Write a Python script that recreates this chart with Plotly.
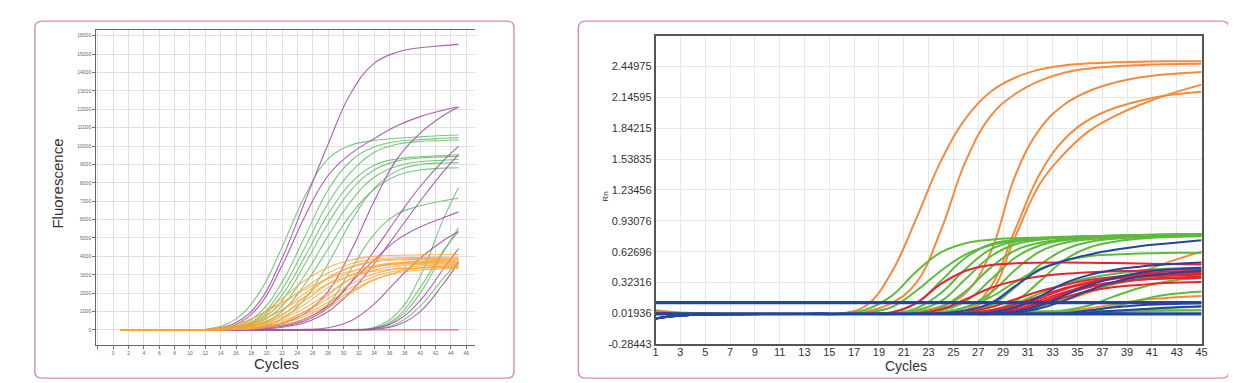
import plotly.graph_objects as go

# ---------------- LEFT PANEL DATA (Fluorescence vs Cycles) ----------------
L_CYCLES = [1, 10, 13, 16, 19, 22, 25, 28, 31, 34, 37, 40, 43, 45]

L_G1 = [0, 0, 100, 600, 2000, 4500, 7300, 9300, 10050, 10300, 10420, 10500, 10570, 10600]
L_G2 = [0, 0, 30, 200, 900, 2600, 5100, 7600, 9200, 9950, 10250, 10350, 10420, 10460]
L_G3 = [0, 0, 20, 150, 700, 2200, 4500, 6900, 8600, 9650, 10100, 10250, 10300, 10340]
L_G4 = [0, 0, 20, 130, 600, 1900, 4000, 6300, 8000, 8950, 9300, 9420, 9490, 9530]
L_G5 = [0, 0, 10, 100, 500, 1600, 3600, 5800, 7600, 8700, 9180, 9350, 9410, 9440]
L_G6 = [0, 0, 10, 80, 400, 1300, 3000, 5100, 7000, 8300, 8900, 9150, 9230, 9270]
L_G7 = [0, 0, 5, 60, 300, 1000, 2500, 4400, 6300, 7650, 8400, 8700, 8800, 8820]
L_G8 = [0, 0, 0, 30, 150, 600, 1700, 3600, 5900, 7700, 8650, 9000, 9080, 9100]
L_G9 = [0, 0, 0, 20, 80, 250, 600, 1400, 3300, 5200, 6300, 6750, 7020, 7160]
L_G10 = [0, 0, 0, 0, 0, 0, 0, 5, 20, 150, 900, 2900, 6000, 7750]
L_G11 = [0, 0, 0, 0, 0, 0, 0, 0, 10, 80, 600, 2000, 4200, 5550]
L_G12 = [0, 0, 0, 0, 0, 0, 0, 0, 10, 100, 700, 2300, 4300, 5350]
L_G13 = [0, 0, 0, 0, 0, 0, 0, 0, 5, 50, 350, 1300, 2800, 3700]

L_P1 = [0, 0, 50, 400, 1500, 3900, 7000, 10100, 12900, 14500, 15100, 15350, 15460, 15530]
L_P2 = [0, 0, 40, 300, 1300, 3500, 6200, 8400, 9600, 10400, 11100, 11600, 11950, 12120]
L_P3 = [0, 0, 0, 20, 100, 350, 900, 2100, 4300, 7000, 9300, 10700, 11650, 12120]
L_P4 = [0, 0, 0, 10, 50, 200, 500, 1200, 2600, 4300, 6100, 7800, 9200, 9980]
L_P5 = [0, 0, 0, 5, 30, 150, 400, 1000, 2100, 3600, 5300, 7000, 8600, 9530]
L_P6 = [0, 0, 0, 10, 60, 250, 600, 1300, 2600, 3800, 4900, 5600, 6100, 6420]
L_P7 = [0, 0, 0, 0, 0, 10, 30, 120, 500, 1400, 2700, 3900, 4850, 5350]
L_P8 = [0, 0, 0, 0, 0, 0, 0, 5, 10, 80, 500, 1600, 3300, 4420]
L_P9 = [0, 0, 0, 0, 0, 0, 0, 0, 5, 30, 250, 1000, 2500, 3660]

L_O1 = [0, 0, 50, 250, 800, 1700, 2700, 3400, 3800, 4000, 4060, 4080, 4090, 4100]
L_O2 = [0, 0, 40, 200, 600, 1400, 2300, 3100, 3600, 3850, 3920, 3940, 3950, 3950]
L_O3 = [0, 0, 30, 150, 450, 1100, 2000, 2800, 3400, 3700, 3800, 3830, 3840, 3850]
L_O4 = [0, 0, 20, 100, 350, 850, 1600, 2500, 3150, 3500, 3650, 3710, 3740, 3750]
L_O5 = [0, 0, 15, 80, 300, 700, 1400, 2300, 3000, 3400, 3600, 3660, 3690, 3700]
L_O6 = [0, 0, 10, 60, 250, 600, 1200, 2000, 2800, 3250, 3470, 3560, 3590, 3600]
L_O7 = [0, 0, 10, 50, 200, 500, 1000, 1700, 2500, 3050, 3350, 3480, 3530, 3550]
L_O8 = [0, 0, 5, 40, 150, 400, 850, 1500, 2300, 2900, 3220, 3370, 3430, 3450]
L_O9 = [0, 0, 5, 30, 120, 350, 750, 1350, 2100, 2750, 3100, 3260, 3320, 3350]
L_O10 = [0, 0, 10, 50, 250, 800, 1800, 2850, 3450, 3750, 3860, 3890, 3900, 3900]
L_O11 = [0, 0, 5, 30, 120, 400, 1000, 1900, 2800, 3380, 3650, 3750, 3790, 3800]
L_O12 = [0, 0, 60, 300, 800, 1500, 2200, 2800, 3200, 3450, 3570, 3620, 3640, 3650]
L_O13 = [0, 0, 0, 20, 80, 250, 600, 1200, 2000, 2700, 3150, 3380, 3470, 3500]
L_O14 = [0, 0, 40, 180, 500, 1100, 1800, 2500, 2950, 3200, 3320, 3370, 3390, 3400]

L_BASE = [0, 0, 0, 0, 0, 0, 0, 0, 0, 0, 0, 0, 0, 0]

L_GREENS = [L_G1, L_G2, L_G3, L_G4, L_G5, L_G6, L_G7, L_G8, L_G9, L_G10, L_G11, L_G12, L_G13]
L_PURPLES = [L_P1, L_P2, L_P3, L_P4, L_P5, L_P6, L_P7, L_P8, L_P9]
L_ORANGES = [L_O1, L_O2, L_O3, L_O4, L_O5, L_O6, L_O7, L_O8, L_O9, L_O10, L_O11, L_O12, L_O13, L_O14]

L_XTICKS = list(range(-2, 47, 2))
L_XTICKTEXT = [""] + [str(v) for v in range(0, 47, 2)]
L_YTICKS = list(range(0, 16001, 1000))
L_YTICKTEXT = [str(v) for v in range(0, 16001, 1000)]

# ---------------- RIGHT PANEL DATA (Rn vs Cycles) ----------------
R_CYCLES = [1, 3, 13, 16, 18, 20, 22, 24, 26, 28, 30, 32, 34, 36, 38, 40, 42, 45]

R_O1 = [0.05, 0.03, 0.015, 0.02, 0.10, 0.42, 0.95, 1.52, 1.94, 2.20, 2.34, 2.42, 2.46, 2.48, 2.49, 2.495, 2.50, 2.50]
R_O2 = [0.04, 0.025, 0.015, 0.015, 0.04, 0.12, 0.32, 0.84, 1.52, 1.96, 2.18, 2.31, 2.39, 2.43, 2.45, 2.462, 2.47, 2.475]
R_O3 = [0.04, 0.02, 0.015, 0.015, 0.015, 0.02, 0.04, 0.09, 0.22, 0.62, 1.38, 1.84, 2.08, 2.21, 2.29, 2.34, 2.37, 2.395]
R_O4 = [0.03, 0.02, 0.015, 0.015, 0.015, 0.015, 0.02, 0.03, 0.04, 0.22, 0.78, 1.30, 1.60, 1.82, 1.96, 2.07, 2.16, 2.27]
R_O5 = [0.03, 0.02, 0.015, 0.015, 0.015, 0.015, 0.02, 0.03, 0.05, 0.28, 0.85, 1.40, 1.74, 1.93, 2.04, 2.11, 2.16, 2.20]
R_O6 = [0.03, 0.02, 0.015, 0.015, 0.015, 0.015, 0.015, 0.015, 0.015, 0.02, 0.03, 0.09, 0.15, 0.23, 0.32, 0.42, 0.51, 0.63]
R_O7 = [0.03, 0.02, 0.015, 0.015, 0.015, 0.015, 0.015, 0.015, 0.015, 0.015, 0.015, 0.02, 0.04, 0.07, 0.11, 0.15, 0.17, 0.19]
R_O8 = [0.03, 0.02, 0.015, 0.015, 0.015, 0.015, 0.015, 0.015, 0.015, 0.015, 0.015, 0.015, 0.015, 0.015, 0.03, 0.04, 0.045, 0.05]

R_G1 = [0.04, 0.02, 0.015, 0.02, 0.06, 0.19, 0.43, 0.62, 0.71, 0.745, 0.76, 0.765, 0.77, 0.775, 0.78, 0.785, 0.79, 0.79]
R_G2 = [0.04, 0.02, 0.015, 0.015, 0.03, 0.08, 0.24, 0.44, 0.60, 0.69, 0.735, 0.755, 0.77, 0.775, 0.78, 0.785, 0.79, 0.795]
R_G3 = [0.03, 0.02, 0.015, 0.015, 0.02, 0.03, 0.12, 0.34, 0.57, 0.70, 0.745, 0.765, 0.775, 0.78, 0.785, 0.79, 0.795, 0.80]
R_G4 = [0.03, 0.02, 0.015, 0.015, 0.015, 0.02, 0.07, 0.22, 0.46, 0.65, 0.725, 0.755, 0.77, 0.78, 0.785, 0.79, 0.795, 0.80]
R_G5 = [0.03, 0.02, 0.015, 0.015, 0.015, 0.015, 0.05, 0.14, 0.36, 0.58, 0.70, 0.745, 0.765, 0.775, 0.78, 0.785, 0.79, 0.795]
R_G6 = [0.03, 0.02, 0.015, 0.015, 0.015, 0.015, 0.03, 0.08, 0.24, 0.47, 0.64, 0.715, 0.75, 0.765, 0.775, 0.78, 0.785, 0.79]
R_G7 = [0.03, 0.02, 0.015, 0.015, 0.015, 0.015, 0.02, 0.05, 0.14, 0.35, 0.57, 0.69, 0.74, 0.76, 0.77, 0.78, 0.79, 0.80]
R_G8 = [0.03, 0.02, 0.015, 0.015, 0.015, 0.015, 0.015, 0.03, 0.08, 0.22, 0.45, 0.63, 0.715, 0.75, 0.765, 0.775, 0.785, 0.79]
R_G9 = [0.03, 0.02, 0.015, 0.015, 0.015, 0.015, 0.015, 0.02, 0.04, 0.10, 0.28, 0.50, 0.65, 0.725, 0.755, 0.77, 0.78, 0.785]
R_G10 = [0.03, 0.02, 0.015, 0.015, 0.015, 0.015, 0.015, 0.015, 0.02, 0.05, 0.14, 0.34, 0.55, 0.67, 0.725, 0.755, 0.77, 0.78]
R_G11 = [0.03, 0.02, 0.015, 0.015, 0.015, 0.015, 0.015, 0.03, 0.08, 0.18, 0.33, 0.46, 0.54, 0.585, 0.60, 0.61, 0.615, 0.615]
R_G12 = [0.03, 0.02, 0.015, 0.015, 0.015, 0.015, 0.015, 0.015, 0.015, 0.02, 0.04, 0.09, 0.17, 0.25, 0.31, 0.36, 0.39, 0.41]
R_G13 = [0.03, 0.02, 0.015, 0.015, 0.015, 0.015, 0.015, 0.015, 0.015, 0.015, 0.02, 0.03, 0.05, 0.10, 0.19, 0.27, 0.33, 0.37]
R_G14 = [0.03, 0.02, 0.015, 0.015, 0.015, 0.015, 0.015, 0.015, 0.015, 0.015, 0.015, 0.02, 0.03, 0.05, 0.09, 0.15, 0.20, 0.235]
R_G15 = [0.03, 0.02, 0.015, 0.015, 0.015, 0.015, 0.015, 0.015, 0.015, 0.015, 0.015, 0.015, 0.015, 0.02, 0.03, 0.05, 0.07, 0.085]
R_G16 = [0.03, 0.02, 0.015, 0.015, 0.015, 0.02, 0.025, 0.03, 0.03, 0.035, 0.035, 0.04, 0.04, 0.04, 0.045, 0.045, 0.05, 0.05]
R_G17 = [0.03, 0.02, 0.015, 0.015, 0.015, 0.015, 0.015, 0.015, 0.02, 0.05, 0.12, 0.22, 0.31, 0.37, 0.41, 0.44, 0.46, 0.47]

R_R1 = [0.02, 0.015, 0.015, 0.015, 0.015, 0.03, 0.12, 0.31, 0.44, 0.495, 0.512, 0.518, 0.52, 0.518, 0.515, 0.51, 0.505, 0.50]
R_R2 = [0.02, 0.015, 0.015, 0.015, 0.015, 0.015, 0.02, 0.06, 0.16, 0.27, 0.34, 0.385, 0.41, 0.425, 0.435, 0.44, 0.45, 0.455]
R_R3 = [0.02, 0.015, 0.015, 0.015, 0.015, 0.015, 0.015, 0.02, 0.03, 0.08, 0.16, 0.24, 0.30, 0.35, 0.38, 0.40, 0.41, 0.42]
R_R4 = [0.02, 0.015, 0.015, 0.015, 0.015, 0.015, 0.015, 0.015, 0.02, 0.05, 0.11, 0.19, 0.27, 0.33, 0.37, 0.39, 0.40, 0.41]
R_R5 = [0.02, 0.015, 0.015, 0.015, 0.015, 0.015, 0.015, 0.015, 0.015, 0.04, 0.09, 0.17, 0.26, 0.32, 0.36, 0.38, 0.39, 0.40]
R_R6 = [0.02, 0.015, 0.015, 0.015, 0.015, 0.015, 0.015, 0.015, 0.015, 0.03, 0.08, 0.15, 0.23, 0.29, 0.33, 0.35, 0.37, 0.38]
R_R7 = [0.02, 0.015, 0.015, 0.015, 0.015, 0.015, 0.015, 0.015, 0.015, 0.02, 0.06, 0.13, 0.21, 0.28, 0.32, 0.35, 0.36, 0.37]
R_R8 = [0.02, 0.015, 0.015, 0.015, 0.015, 0.015, 0.015, 0.015, 0.015, 0.015, 0.05, 0.10, 0.18, 0.24, 0.28, 0.30, 0.32, 0.33]
R_R9 = [0.02, 0.015, 0.015, 0.015, 0.015, 0.015, 0.015, 0.015, 0.015, 0.015, 0.04, 0.12, 0.22, 0.31, 0.37, 0.41, 0.43, 0.44]

R_B1 = [-0.03, 0.0, 0.015, 0.015, 0.015, 0.015, 0.015, 0.02, 0.05, 0.12, 0.29, 0.45, 0.54, 0.60, 0.645, 0.68, 0.705, 0.74]
R_B2 = [-0.03, 0.0, 0.015, 0.015, 0.015, 0.015, 0.015, 0.015, 0.015, 0.03, 0.08, 0.19, 0.32, 0.40, 0.45, 0.48, 0.50, 0.52]
R_B3 = [-0.03, 0.0, 0.015, 0.015, 0.015, 0.015, 0.015, 0.015, 0.015, 0.02, 0.04, 0.10, 0.20, 0.30, 0.37, 0.42, 0.45, 0.47]
R_B4 = [-0.03, 0.0, 0.015, 0.015, 0.015, 0.015, 0.015, 0.015, 0.015, 0.015, 0.03, 0.07, 0.15, 0.25, 0.33, 0.38, 0.41, 0.44]
R_B5 = [-0.03, 0.0, 0.015, 0.015, 0.015, 0.015, 0.015, 0.015, 0.015, 0.015, 0.015, 0.015, 0.02, 0.05, 0.08, 0.10, 0.11, 0.12]
R_B6 = [-0.03, 0.0, 0.015, 0.015, 0.015, 0.015, 0.015, 0.015, 0.015, 0.015, 0.015, 0.015, 0.015, 0.03, 0.045, 0.06, 0.075, 0.09]

R_THRESH_X = [1, 45]
R_THRESHOLD = [0.125, 0.125]
R_BASELINE = [0.015, 0.015]

R_ORANGES = [R_O1, R_O2, R_O3, R_O4, R_O5, R_O6, R_O7, R_O8]
R_GREENS = [R_G1, R_G2, R_G3, R_G4, R_G5, R_G6, R_G7, R_G8, R_G9, R_G10, R_G11,
            R_G12, R_G13, R_G14, R_G15, R_G16, R_G17]
R_REDS = [R_R1, R_R2, R_R3, R_R4, R_R5, R_R6, R_R7, R_R8, R_R9]
R_BLUES = [R_B1, R_B2, R_B3, R_B4, R_B5, R_B6]

R_XTICKS = list(range(1, 46, 2))
R_YTICKS = [-0.28443, 0.01936, 0.32316, 0.62696, 0.93076, 1.23456, 1.53835, 1.84215, 2.14595, 2.44975]
R_YTICKTEXT = ["-0.28443", "0.01936", "0.32316", "0.62696", "0.93076", "1.23456",
               "1.53835", "1.84215", "2.14595", "2.44975"]

# ---------------- FIGURE ----------------
W, H = 1236, 383
FONT = "Arial, Liberation Sans, sans-serif"

fig = go.Figure()


def add_left(series, color, width=1.1):
    for ys in series:
        fig.add_trace(go.Scatter(x=L_CYCLES, y=ys, mode="lines", xaxis="x", yaxis="y",
                                 line=dict(color=color, width=width, shape="spline", smoothing=1.2),
                                 hoverinfo="skip"))


def add_right(series, color, width=2.0, xs=None):
    for ys in series:
        fig.add_trace(go.Scatter(x=xs or R_CYCLES, y=ys, mode="lines", xaxis="x2", yaxis="y2",
                                 line=dict(color=color, width=width, shape="spline", smoothing=1.2),
                                 hoverinfo="skip"))


# left panel
add_left([L_BASE], "#f0657f", 1.2)
add_left(L_GREENS, "rgba(100,188,104,0.85)")
add_left(L_PURPLES, "rgba(166,76,170,0.9)")
add_left(L_ORANGES, "rgba(249,163,55,0.8)")

# right panel
add_right(R_ORANGES, "#f58a3d")
add_right(R_GREENS, "#5dbb3b")
add_right(R_REDS, "#e8222f")
add_right(R_BLUES, "#2444a3")
add_right([R_THRESHOLD, R_BASELINE], "#2444a3", 3.2, xs=R_THRESH_X)


def px_x(p):
    return p / W


def px_y(p):
    return 1 - p / H


def rounded_rect(x0, y0, x1, y1, r):
    rx, ry = r / W, r / H
    X0, X1 = px_x(x0), px_x(x1)
    Y0, Y1 = px_y(y0), px_y(y1)  # Y0 top, Y1 bottom
    return (f"M {X0+rx},{Y0} L {X1-rx},{Y0} Q {X1},{Y0} {X1},{Y0-ry} "
            f"L {X1},{Y1+ry} Q {X1},{Y1} {X1-rx},{Y1} "
            f"L {X0+rx},{Y1} Q {X0},{Y1} {X0},{Y1+ry} "
            f"L {X0},{Y0-ry} Q {X0},{Y0} {X0+rx},{Y0} Z")


border = dict(type="path", xref="paper", yref="paper", line=dict(color="#d98bb2", width=1.4),
              fillcolor="rgba(0,0,0,0)", layer="above")

fig.update_layout(
    width=W, height=H,
    margin=dict(l=0, r=0, t=0, b=0),
    paper_bgcolor="white", plot_bgcolor="white",
    showlegend=False,
    font=dict(family=FONT, color="#333"),
    shapes=[
        dict(border, path=rounded_rect(24, 13.3, 506.7, 376, 7)),
        dict(border, path=rounded_rect(571.5, 13.3, 1226.7, 376, 7)),
    ],
    xaxis=dict(domain=[86 / W, 467 / W], anchor="y", range=[-2.2, 47.1],
               tickmode="array", tickvals=L_XTICKS, ticktext=L_XTICKTEXT,
               tickfont=dict(size=5, color="#666"), ticks="outside", ticklen=3,
               tickcolor="#777", showgrid=True, gridcolor="#e2dde4", gridwidth=1,
               showline=True, linecolor="#666", linewidth=1.4, mirror=True, zeroline=False),
    yaxis=dict(domain=[1 - 342 / H, 1 - 22 / H], anchor="x", range=[-800, 16330],
               tickmode="array", tickvals=L_YTICKS, ticktext=L_YTICKTEXT,
               tickfont=dict(size=5, color="#666"), ticks="outside", ticklen=3,
               tickcolor="#777", showgrid=True, gridcolor="#e2dde4", gridwidth=1,
               showline=True, linecolor="#666", linewidth=1.4, mirror=False, zeroline=False),
    xaxis2=dict(domain=[649.3 / W, 1199.3 / W], anchor="y2", range=[1, 45],
                tickmode="array", tickvals=R_XTICKS,
                tickfont=dict(size=11, color="#333"), ticks="", ticklabelstandoff=-3,
                showgrid=True, gridcolor="#e6e6e6", gridwidth=1,
                showline=True, linecolor="#555", linewidth=1.5, mirror=True, zeroline=False),
    yaxis2=dict(domain=[1 - 341.7 / H, 1 - 28.5 / H], anchor="x2", range=[-0.28443, 2.748],
                tickmode="array", tickvals=R_YTICKS, ticktext=R_YTICKTEXT,
                tickfont=dict(size=11, color="#333"), ticks="",
                showgrid=True, gridcolor="#e6e6e6", gridwidth=1,
                showline=True, linecolor="#555", linewidth=1.5, mirror=True, zeroline=False),
    annotations=[
        dict(text="Fluorescence", x=px_x(46.7), y=px_y(178), xref="paper", yref="paper",
             showarrow=False, textangle=-90, font=dict(size=15, color="#333"),
             xanchor="center", yanchor="middle"),
        dict(text="Cycles", x=px_x(267), y=px_y(361), xref="paper", yref="paper",
             showarrow=False, font=dict(size=15, color="#333"),
             xanchor="center", yanchor="middle"),
        dict(text="Cycles", x=px_x(902), y=px_y(364), xref="paper", yref="paper",
             showarrow=False, font=dict(size=14, color="#333"),
             xanchor="center", yanchor="middle"),
        dict(text="Rn", x=px_x(599.3), y=px_y(191.7), xref="paper", yref="paper",
             showarrow=False, textangle=-90, font=dict(size=8, color="#333"),
             xanchor="center", yanchor="middle"),
    ],
)

fig.write_html("out.html")
